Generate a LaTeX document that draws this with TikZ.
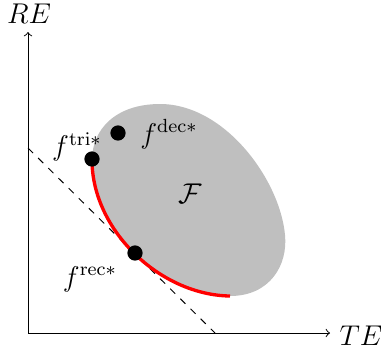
\documentclass[tikz,border=0pt]{standalone}
\begin{document}
\begin{tikzpicture}[x=0.42pt,y=-0.42pt,
  axis/.style={->, >=to, line width=0.4pt},
  dot/.style={circle, fill=black, inner sep=0pt, minimum size=6.4pt},
  lbl/.style={inner sep=0pt, font=\fontsize{12}{14}\selectfont}]
\useasboundingbox (0,0) rectangle (381,352);
% region
\fill[gray!50] (92,160) .. controls (92,230) and (160,295) .. (230,296)
  .. controls (270,296) and (288,265) .. (285,235)
  .. controls (280,180) and (225,104) .. (160,104)
  .. controls (115,104) and (92,130) .. (92,160) -- cycle;
% axes
\coordinate (o) at (28,333);
\coordinate (ytop) at (28,32);
\coordinate (xend) at (330,333);
\draw[axis] (o) -- (ytop);
\draw[axis] (o) -- (xend);
\node[lbl] (re) at (29,14) {$RE$};
\node[lbl] (te) at (361,336) {$TE$};
% dashed line
\coordinate (da) at (28,148);
\coordinate (db) at (215,333);
\draw[dashed] (da) -- (db);
% red front
\draw[red, line width=1.4pt] (92,160) .. controls (92,230) and (160,295) .. (230,296);
% points
\node[dot] (tri) at (92,159) {};
\node[dot] (dec) at (118,133) {};
\node[dot] (rec) at (135,253) {};
\node[lbl] (ltri) at (77,147) {$f^{\mathrm{tri}*}$};
\node[lbl] (ldec) at (169,134) {$f^{\mathrm{dec}*}$};
\node[lbl] (lrec) at (90,279) {$f^{\mathrm{rec}*}$};
\node[lbl] (F) at (190,194) {$\mathcal{F}$};
\end{tikzpicture}
\end{document}
